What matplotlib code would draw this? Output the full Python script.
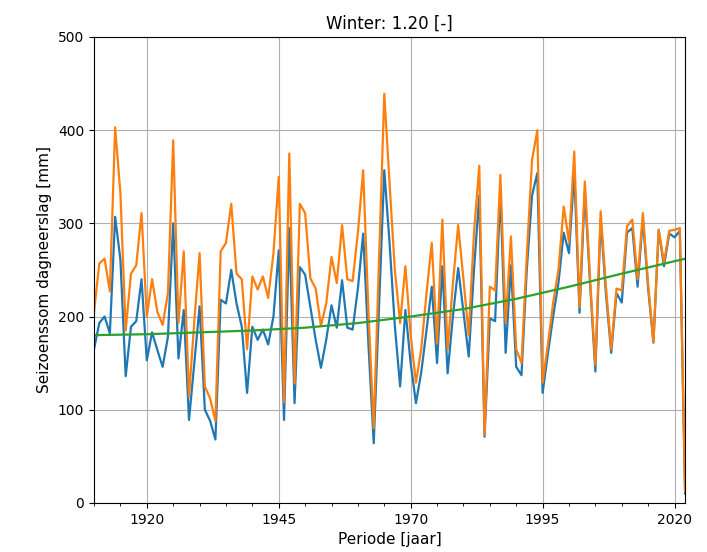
import numpy as np
import matplotlib
matplotlib.use("Agg")
import matplotlib.pyplot as plt
from matplotlib.ticker import MultipleLocator

# winter seasons 1910 - 2022
years = np.arange(1910, 2023)

# observed seasonal sum (blue)
observed = [
    165, 193, 200, 182, 307, 261, 136, 189, 195, 240,   # 1910-1919
    153, 183, 164, 146, 178, 300, 155, 207, 89, 150,    # 1920-1929
    211, 100, 88, 68, 218, 214, 250, 214, 189, 118,     # 1930-1939
    189, 175, 186, 170, 200, 271, 89, 295, 107, 253,    # 1940-1949
    245, 210, 175, 145, 175, 212, 188, 239, 188, 186,   # 1950-1959
    230, 289, 170, 64, 210, 357, 279, 190, 125, 207,    # 1960-1969
    150, 107, 140, 185, 232, 150, 254, 139, 200, 252,   # 1970-1979
    205, 157, 250, 330, 71, 198, 195, 335, 161, 255,    # 1980-1989
    146, 137, 250, 330, 354, 118, 160, 200, 236, 290,   # 1990-1999
    268, 355, 204, 335, 235, 141, 305, 225, 161, 225,   # 2000-2009
    215, 290, 295, 232, 305, 230, 172, 293, 254, 289,   # 2010-2019
    285, 292, 10,                                       # 2020-2022
]

# transformed seasonal sum (orange)
transformed = [
    205, 257, 262, 227, 403, 332, 185, 246, 255, 311,
    200, 240, 205, 191, 225, 389, 193, 270, 114, 195,
    268, 125, 112, 88, 270, 279, 321, 246, 240, 165,
    243, 229, 243, 220, 268, 350, 108, 375, 128, 321,
    311, 241, 230, 190, 214, 264, 236, 298, 240, 238,
    290, 357, 205, 80, 260, 439, 343, 250, 193, 254,
    180, 129, 165, 225, 279, 171, 304, 165, 235, 298,
    240, 180, 290, 362, 73, 232, 228, 352, 193, 286,
    165, 150, 265, 368, 400, 129, 170, 215, 250, 318,
    280, 377, 210, 345, 240, 148, 313, 232, 165, 230,
    228, 297, 304, 240, 311, 235, 172, 293, 258, 292,
    293, 295, 12,
]

# trend line (green), read every 10 years
trend_years = [1910, 1920, 1930, 1940, 1950, 1960, 1970, 1980, 1990, 2000, 2010, 2022]
trend = [180, 181, 183, 185, 188, 193, 200, 208, 219, 232, 246, 262]

fig, ax = plt.subplots(figsize=(7.07, 5.52), dpi=100)
fig.subplots_adjust(left=0.133, right=0.969, top=0.933, bottom=0.089)

ax.plot(years, observed, color='tab:blue', linewidth=1.6)
ax.plot(years, transformed, color='tab:orange', linewidth=1.6)
ax.plot(trend_years, trend, color='tab:green', linewidth=1.6)

ax.set_xlim(1910, 2022)
ax.set_ylim(0, 500)
ax.set_xticks([1920, 1945, 1970, 1995, 2020])
ax.xaxis.set_minor_locator(MultipleLocator(5))
ax.set_yticks([0, 100, 200, 300, 400, 500])
ax.tick_params(labelsize=10)
ax.grid(True, which='major')

ax.set_title("Winter: 1.20 [-]", fontsize=12)
ax.set_xlabel("Periode [jaar]", fontsize=11)
ax.set_ylabel("Seizoenssom dagneerslag [mm]", fontsize=11)

fig.savefig("out.png", dpi=100)
